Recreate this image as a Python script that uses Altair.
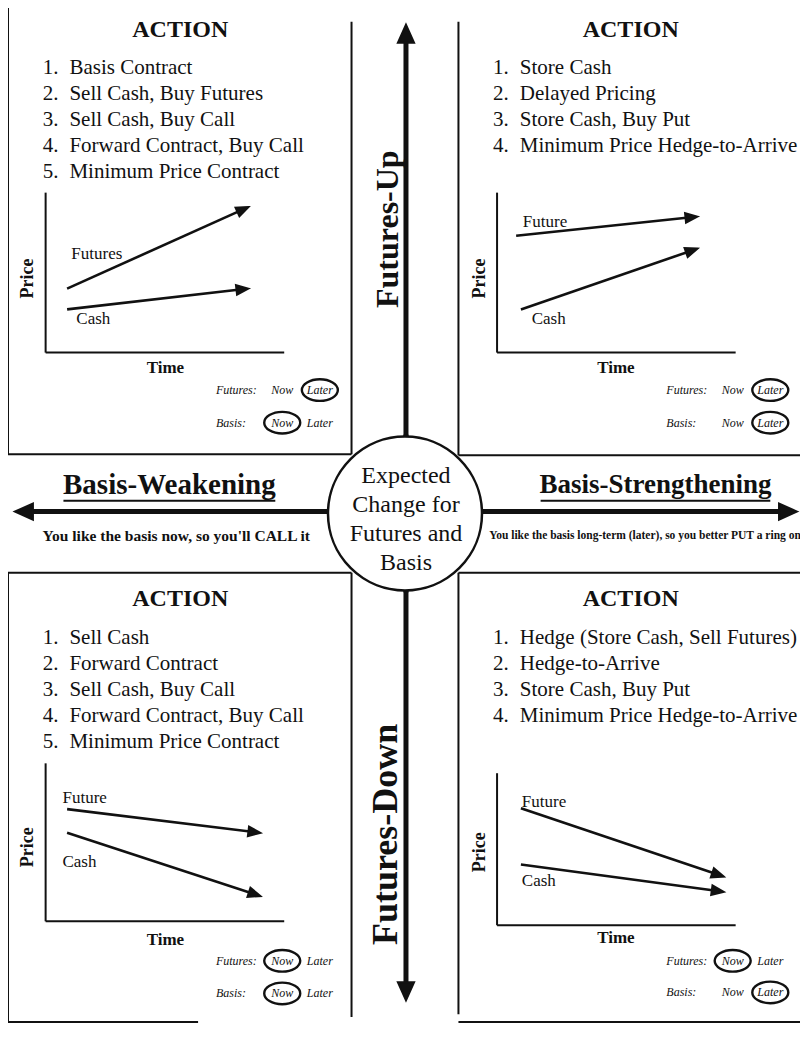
import math
import altair as alt
import pandas as pd

# ---------------- content ----------------
quadrants = ["TL", "TR", "BL", "BR"]
action_title = "ACTION"
items = {
    "TL": ["Basis Contract", "Sell Cash, Buy Futures", "Sell Cash, Buy Call",
           "Forward Contract, Buy Call", "Minimum Price Contract"],
    "TR": ["Store Cash", "Delayed Pricing", "Store Cash, Buy Put",
           "Minimum Price Hedge-to-Arrive"],
    "BL": ["Sell Cash", "Forward Contract", "Sell Cash, Buy Call",
           "Forward Contract, Buy Call", "Minimum Price Contract"],
    "BR": ["Hedge (Store Cash, Sell Futures)", "Hedge-to-Arrive",
           "Store Cash, Buy Put", "Minimum Price Hedge-to-Arrive"],
}
# mini charts, time 0-100 and price 0-100 (start -> end)
fut_label = ["Futures", "Future", "Future", "Future"]
fut_t0 = [9, 8, 9, 10]
fut_t1 = [85, 84, 90, 95]
fut_p0 = [40, 73, 71, 77]
fut_p1 = [91, 85, 56, 32]
cash_t0 = [9, 10, 9, 10]
cash_t1 = [85, 84, 90, 95]
cash_p0 = [27, 27, 56, 40]
cash_p1 = [40, 65, 16, 22]
futures_circled = ["Later", "Later", "Now", "Now"]
basis_circled = ["Now", "Later", "Now", "Later"]

center_lines = ["Expected", "Change for", "Futures and", "Basis"]
up_label = "Futures-Up"
down_label = "Futures-Down"
left_label = "Basis-Weakening"
right_label = "Basis-Strengthening"
left_note = "You like the basis now, so you'll CALL it"
right_note = "You like the basis long-term (later), so you better PUT a ring on it"

# ---------------- layout (image pixel space) ----------------
box_left = [8, 463, 8, 463]
box_top = [3, 3, 580, 580]
mc_ox = [46, 502, 46, 502]
mc_oy = [357, 357, 933, 937]
mc_w = [241, 241, 241, 241]
mc_h = [162, 162, 160, 154]
fut_lab_xy = [(72, 257), (528, 225), (63, 808), (527, 812)]
cash_lab_xy = [(77, 323), (537, 323), (63, 873), (527, 892)]
price_xy = [(28, 282), (485, 282), (28, 858), (485, 863)]
time_xy = [(167, 373), (622, 373), (167, 952), (622, 950)]
leg_x = [218, 673, 218, 673]
leg_y1 = [395, 395, 973, 973]
leg_y2 = [428, 428, 1006, 1005]

CH_W, CH_H = 792, 1016
xs = alt.Scale(domain=[8, 808])
ys = alt.Scale(domain=[8, 1037], reverse=True)
INK = "#111111"
FONT = "Liberation Serif"


def X(f):
    return alt.X(f, type="quantitative", scale=xs, axis=None)


def Y(f):
    return alt.Y(f, type="quantitative", scale=ys, axis=None)


# ---------------- segments ----------------
segs = []


def seg(x, y, x2, y2, w):
    segs.append(dict(x=x, y=y, x2=x2, y2=y2, w=w))


# boxes
seg(8, 3, 355, 3, 2); seg(8, 3, 8, 460, 2); seg(355, 22, 355, 460, 2); seg(8, 460, 355, 460, 2)
seg(463, 3, 808, 3, 2); seg(463, 22, 463, 461, 2); seg(463, 461, 808, 461, 2)
seg(8, 580, 355, 580, 2); seg(8, 580, 8, 1035, 2); seg(355, 580, 355, 1030, 2); seg(8, 1035, 200, 1035, 2)
seg(463, 580, 808, 580, 2); seg(463, 580, 463, 1027, 2); seg(463, 1035, 808, 1035, 2)

# big arrows shafts
seg(410, 40, 410, 600, 5)
seg(410, 440, 410, 998, 5)
seg(30, 518, 410, 518, 5)
seg(410, 518, 790, 518, 5)
# underlines
seg(64, 507, 278, 507, 2)
seg(546, 507, 778, 507, 2)

heads_small = []
for i, q in enumerate(quadrants):
    ox, oy, w, h = mc_ox[i], mc_oy[i], mc_w[i], mc_h[i]
    seg(ox, oy - h, ox, oy, 2)
    seg(ox, oy, ox + w, oy, 2)
    for t0, t1, p0, p1 in [(fut_t0[i], fut_t1[i], fut_p0[i], fut_p1[i]),
                           (cash_t0[i], cash_t1[i], cash_p0[i], cash_p1[i])]:
        x0 = ox + t0 / 100 * w
        x1 = ox + t1 / 100 * w
        y0 = oy - p0 / 100 * h
        y1 = oy - p1 / 100 * h
        ang = math.degrees(math.atan2(y1 - y0, x1 - x0)) % 360
        seg(x0, y0, x1 - 4 * math.cos(math.radians(ang)), y1 - 4 * math.sin(math.radians(ang)), 2.6)
        heads_small.append(dict(x=x1, y=y1, ang=ang))

seg_df = pd.DataFrame(segs)
rules = alt.Chart(seg_df).mark_rule(color=INK, strokeCap="butt").encode(
    x=X("x"), y=Y("y"), x2="x2:Q", y2="y2:Q",
    strokeWidth=alt.StrokeWidth("w:Q", scale=None, legend=None))

big_heads = pd.DataFrame(dict(x=[410, 410, 15, 805], y=[25, 1013, 518, 518], ang=[270, 90, 180, 0]))
head_big = alt.Chart(big_heads).mark_point(
    shape="M 0 0 L -1 -0.45 L -1 0.45 Z", filled=True, fill=INK, stroke=INK, opacity=1, size=1296
).encode(x=X("x"), y=Y("y"), angle=alt.Angle("ang:Q", scale=None, legend=None))

head_small = alt.Chart(pd.DataFrame(heads_small)).mark_point(
    shape="M 0 0 L -1 -0.4 L -1 0.4 Z", filled=True, fill=INK, stroke=INK, opacity=1, size=576
).encode(x=X("x"), y=Y("y"), angle=alt.Angle("ang:Q", scale=None, legend=None))

circle = alt.Chart(pd.DataFrame(dict(x=[409], y=[520]))).mark_point(
    shape="circle", filled=False, fill="white", fillOpacity=1, stroke=INK, strokeWidth=2.5,
    opacity=1, size=154 ** 2
).encode(x=X("x"), y=Y("y"))

# ellipses around circled legend words
ell = []
for i, q in enumerate(quadrants):
    for row_y, which in [(leg_y1[i], futures_circled[i]), (leg_y2[i], basis_circled[i])]:
        cx = leg_x[i] + (67 if which == "Now" else 105)
        ell.append(dict(x=cx, y=row_y))
ELL = ("M 1 0 C 1 0.331 0.552 0.6 0 0.6 C -0.552 0.6 -1 0.331 -1 0 "
       "C -1 -0.331 -0.552 -0.6 0 -0.6 C 0.552 -0.6 1 -0.331 1 0 Z")
ellipses = alt.Chart(pd.DataFrame(ell)).mark_point(
    shape=ELL, filled=False, stroke=INK, strokeWidth=2.4, opacity=1, size=36 ** 2
).encode(x=X("x"), y=Y("y"))

# ---------------- texts ----------------
texts = []


def txt(x, y, s, fs, weight="normal", style="normal", align="center", ang=0):
    texts.append(dict(x=x, y=y, text=s, fs=fs, weight=weight, style=style, align=align, ang=ang))


for i, q in enumerate(quadrants):
    bl, bt = box_left[i], box_top[i]
    txt(bl + 174, bt + 27, action_title, 24, "bold")
    for k, s in enumerate(items[q]):
        yy = bt + 66 + k * 26.3
        txt(bl + 35, yy, f"{k + 1}.", 21, align="left")
        txt(bl + 62, yy, s, 21, align="left")
    txt(fut_lab_xy[i][0], fut_lab_xy[i][1], fut_label[i], 17, align="left")
    txt(cash_lab_xy[i][0], cash_lab_xy[i][1], "Cash", 17, align="left")
    txt(price_xy[i][0], price_xy[i][1], "Price", 18, "bold", ang=270)
    txt(time_xy[i][0], time_xy[i][1], "Time", 17, "bold")
    txt(leg_x[i], leg_y1[i], "Futures:", 12, style="italic", align="left")
    txt(leg_x[i], leg_y2[i], "Basis:", 12, style="italic", align="left")
    for yy in (leg_y1[i], leg_y2[i]):
        txt(leg_x[i] + 67, yy, "Now", 12, style="italic")
        txt(leg_x[i] + 105, yy, "Later", 12, style="italic")

for k, s in enumerate(center_lines):
    txt(410, 482 + k * 29.5, s, 24)
txt(392, 232, up_label, 32, "bold", ang=270)
txt(390, 845, down_label, 36, "bold", ang=270)
txt(171, 491, left_label, 29, "bold")
txt(662, 491, right_label, 27, "bold")
txt(178, 543, left_note, 15.5, "bold")
txt(494, 543, right_note, 11.5, "bold", align="left")

tdf = pd.DataFrame(texts)
text_layers = []
for (weight, style, align), g in tdf.groupby(["weight", "style", "align"]):
    text_layers.append(
        alt.Chart(g.drop(columns=["weight", "style", "align"])).mark_text(
            align=align, baseline="middle", font=FONT,
            fontWeight=weight, fontStyle=style, color=INK
        ).encode(
            x=X("x"), y=Y("y"), text="text:N",
            size=alt.Size("fs:Q", scale=None, legend=None),
            angle=alt.Angle("ang:Q", scale=None, legend=None),
        )
    )

chart = alt.layer(rules, head_big, head_small, circle, ellipses, *text_layers).properties(
    width=CH_W, height=CH_H, padding=0, autosize="none", background="white"
).configure_view(strokeWidth=0)

chart.save("out.html", embed_options={"renderer": "svg", "actions": False})
